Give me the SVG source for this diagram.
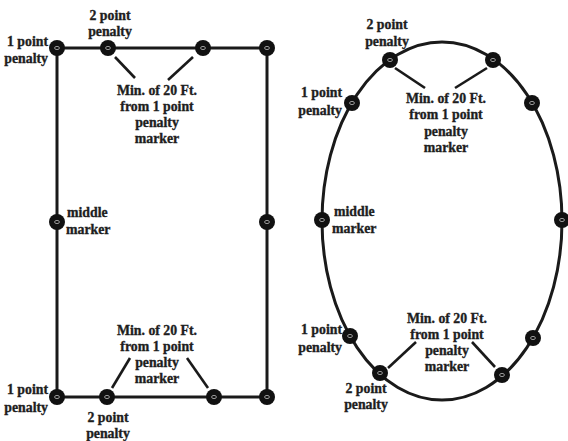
<svg xmlns="http://www.w3.org/2000/svg" width="568" height="441" viewBox="0 0 568 441">
<defs>
<style>
.t{font-family:"Liberation Serif","Times New Roman",serif;font-weight:bold;font-size:13.8px;fill:#1e1e1e;stroke:#1e1e1e;stroke-width:0.35}
.m{text-anchor:middle}
.e{text-anchor:end}
.out{fill:none;stroke:#1a1a1a;stroke-width:3}
.ld{stroke:#1a1a1a;stroke-width:2.6;fill:none}
.dot{fill:#111}
.in{fill:none;stroke:#999;stroke-width:1}
</style>
<g id="mk">
<circle class="dot" r="8"/>
<ellipse class="in" rx="2.4" ry="1.6"/>
</g>
</defs>
<rect width="568" height="441" fill="#fff"/>

<g id="field-outlines">
<rect class="out" x="57" y="48" width="210" height="349"/>
<ellipse class="out" cx="442" cy="221" rx="120" ry="179"/>
</g>

<g id="connectors">
<line class="ld" x1="115" y1="57" x2="135" y2="78"/>
<line class="ld" x1="193" y1="57" x2="168" y2="80"/>
<line class="ld" x1="130" y1="358" x2="112" y2="388"/>
<line class="ld" x1="187" y1="358" x2="208" y2="388"/>
<line class="ld" x1="395" y1="68" x2="425" y2="88"/>
<line class="ld" x1="487" y1="68" x2="455" y2="88"/>
<line class="ld" x1="416" y1="342" x2="388" y2="368"/>
<line class="ld" x1="472" y1="342" x2="495" y2="367"/>
</g>

<!-- Rectangle markers -->
<g id="r-tl"><use href="#mk" x="57" y="48"/><text class="t e" x="48" y="46">1 point</text><text class="t e" x="48" y="63">penalty</text></g>
<g id="r-t2"><use href="#mk" x="108" y="48"/><text class="t m" x="110" y="20">2 point</text><text class="t m" x="110" y="36">penalty</text></g>
<g id="r-t3"><use href="#mk" x="203" y="48"/></g>
<g id="r-tr"><use href="#mk" x="267" y="48"/></g>
<g id="r-ml"><use href="#mk" x="57" y="222"/><text class="t" x="67" y="217">middle</text><text class="t" x="66" y="234">marker</text></g>
<g id="r-mr"><use href="#mk" x="267" y="222"/></g>
<g id="r-bl"><use href="#mk" x="57" y="397"/><text class="t e" x="48" y="394">1 point</text><text class="t e" x="48" y="412">penalty</text></g>
<g id="r-b2"><use href="#mk" x="107" y="397"/><text class="t m" x="108" y="422">2 point</text><text class="t m" x="108" y="438">penalty</text></g>
<g id="r-b3"><use href="#mk" x="214" y="397"/></g>
<g id="r-br"><use href="#mk" x="267" y="397"/></g>
<g id="r-top-note"><text class="t m" x="157" y="95">Min. of 20 Ft.</text><text class="t m" x="157" y="111">from 1 point</text><text class="t m" x="157" y="127">penalty</text><text class="t m" x="157" y="143">marker</text></g>
<g id="r-bot-note"><text class="t m" x="157" y="335">Min. of 20 Ft.</text><text class="t m" x="157" y="351">from 1 point</text><text class="t m" x="157" y="367">penalty</text><text class="t m" x="157" y="383">marker</text></g>

<!-- Ellipse markers -->
<g id="e-t2"><use href="#mk" x="390" y="60"/><text class="t m" x="387" y="29">2 point</text><text class="t m" x="387" y="46">penalty</text></g>
<g id="e-t3"><use href="#mk" x="493" y="60"/></g>
<g id="e-tl"><use href="#mk" x="352" y="103"/><text class="t e" x="342" y="97">1 point</text><text class="t e" x="342" y="115">penalty</text></g>
<g id="e-tr"><use href="#mk" x="532" y="103"/></g>
<g id="e-ml"><use href="#mk" x="322" y="220"/><text class="t" x="334" y="216">middle</text><text class="t" x="332" y="233">marker</text></g>
<g id="e-mr"><use href="#mk" x="562" y="220"/></g>
<g id="e-bl"><use href="#mk" x="350" y="336"/><text class="t e" x="342" y="334">1 point</text><text class="t e" x="342" y="352">penalty</text></g>
<g id="e-br"><use href="#mk" x="533" y="338"/></g>
<g id="e-b2"><use href="#mk" x="380" y="373"/><text class="t m" x="366" y="393">2 point</text><text class="t m" x="366" y="409">penalty</text></g>
<g id="e-b3"><use href="#mk" x="502" y="375"/></g>
<g id="e-top-note"><text class="t m" x="446" y="103">Min. of 20 Ft.</text><text class="t m" x="446" y="119">from 1 point</text><text class="t m" x="446" y="136">penalty</text><text class="t m" x="446" y="152">marker</text></g>
<g id="e-bot-note"><text class="t m" x="447" y="323">Min. of 20 Ft.</text><text class="t m" x="447" y="339">from 1 point</text><text class="t m" x="447" y="355">penalty</text><text class="t m" x="447" y="371">marker</text></g>
</svg>
